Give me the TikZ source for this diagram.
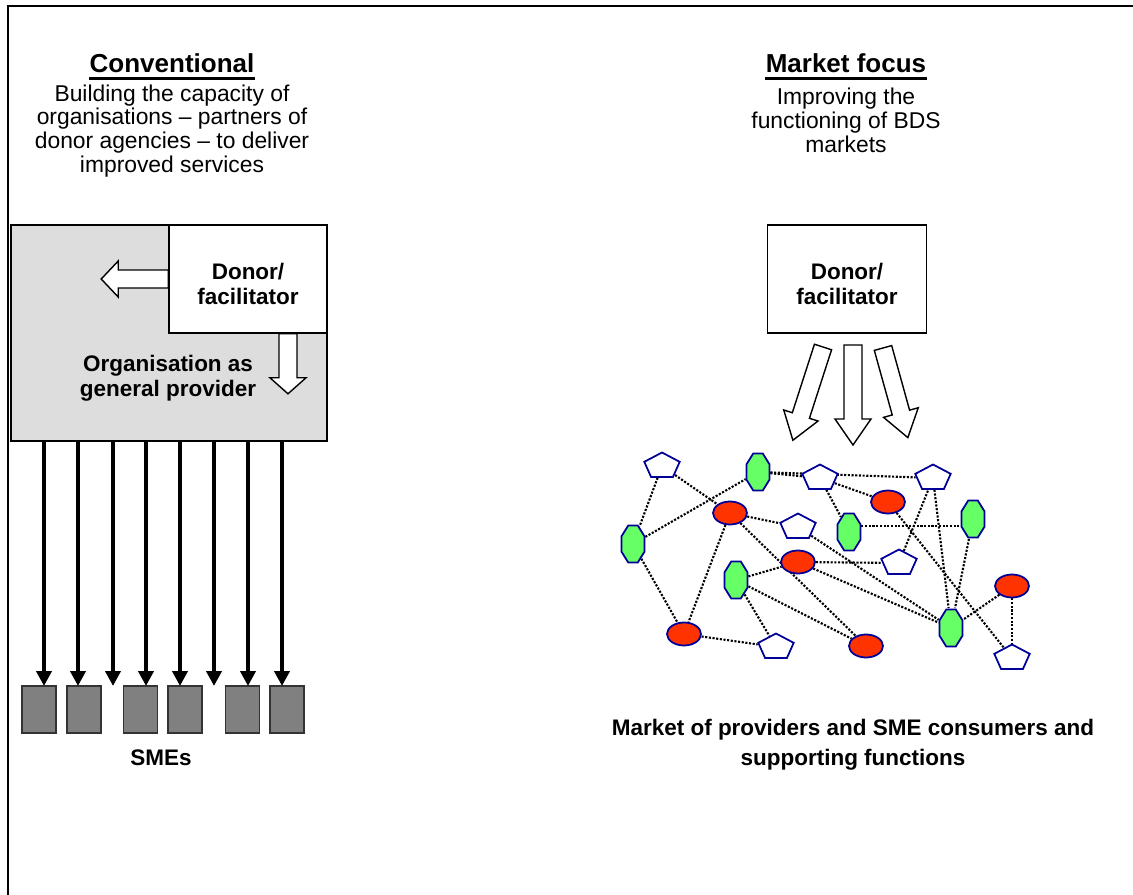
\documentclass[tikz,border=0pt]{standalone}
\usepackage{fontspec}
\setmainfont{Liberation Sans}
\usetikzlibrary{shapes.geometric, arrows.meta, positioning, backgrounds}

\definecolor{provgreen}{HTML}{66FF66}
\definecolor{firmred}{HTML}{FF3300}
\definecolor{edgeblue}{HTML}{000099}
\definecolor{orggray}{HTML}{DDDDDD}
\definecolor{smegray}{HTML}{808080}

% hollow block arrow: tail point, angle, length, head length
\newcommand{\hollowarrow}[4]{%
  \draw[line width=0.8pt, fill=white, shift={#1}, rotate=#2]
    (0,-9) -- (#3-#4,-9) -- (#3-#4,-18) -- (#3,0) -- (#3-#4,18) -- (#3-#4,9) -- (0,9) -- cycle;}

\begin{document}
\begin{tikzpicture}[x=0.02cm, y=-0.02cm, every node/.style={inner sep=0pt},
    title/.style={font=\fontsize{14.8}{17}\selectfont\bfseries},
    body/.style={font=\fontsize{13}{13.6}\selectfont, align=center},
    label/.style={font=\fontsize{12.8}{14.2}\selectfont\bfseries, align=center},
    whitebox/.style={draw, fill=white, line width=0.9pt},
    smebox/.style={draw=black!80, fill=smegray, line width=0.6pt, minimum width=0.68cm, minimum height=0.94cm},
    smeline/.style={line width=2.2pt, -{Triangle[length=8.5pt, width=8.5pt]}},
    pent/.style={regular polygon, regular polygon sides=5, draw=edgeblue, fill=white, line width=1pt, minimum size=0.54cm, xscale=1.38, transform shape},
    octo/.style={regular polygon, regular polygon sides=8, draw=edgeblue, fill=provgreen, line width=1pt, minimum size=0.498cm, yscale=1.61, transform shape},
    oval/.style={ellipse, draw=edgeblue, fill=firmred, line width=1pt, minimum width=0.68cm, minimum height=0.46cm},
    link/.style={line width=1.2pt, dash pattern=on 1.2pt off 0.9pt}]

    \useasboundingbox (0,0) rectangle (1133,895);
    \draw[line width=1.2pt] (8,895) -- (8,6) -- (1133,6);

    % Conventional side
    \node[title] (convtitle) at (172,63) {Conventional};
    \draw[line width=1.7pt] ([yshift=-3.5pt]convtitle.base west) -- ([yshift=-3.5pt]convtitle.base east);
    \node[body] (convtext) at (172,131) {Building the capacity of\\organisations -- partners of\\donor agencies -- to deliver\\improved services};

    \node[draw, fill=orggray, line width=0.9pt, minimum width=6.32cm, minimum height=4.32cm] (org) at (169,333) {};
    \node[whitebox, minimum width=3.16cm, minimum height=2.16cm] (donorL) at (248,279) {};
    \node[label] (donorLtext) at (248,284) {Donor/\\facilitator};
    \hollowarrow{(donorL.west)}{180}{67}{17}
    \hollowarrow{([xshift=0.8cm]donorL.south)}{-90}{60}{16}
    \node[label] (orgtext) at (168,378) {Organisation as\\general provider};

    % SMEs
    \foreach \x [count=\i] in {39,84,140.5,185,242.5,287}
        \node[smebox] (sme\i) at (\x,709.5) {};
    \foreach \x in {44,78,113,146,180,214,248,282}
        \draw[smeline] (org.south -| \x,0) -- (\x,686);
    \node[label] (smes) at (161,758) {SMEs};

    % Market focus side
    \node[title] (markettitle) at (846,63) {Market focus};
    \draw[line width=1.7pt] ([yshift=-3.5pt]markettitle.base west) -- ([yshift=-3.5pt]markettitle.base east);
    \node[body] (markettext) at (846,120) {Improving the\\functioning of BDS\\markets};

    \node[whitebox, minimum width=3.18cm, minimum height=2.16cm] (donorR) at (847,279) {};
    \node[label] (donorRtext) at (847,284) {Donor/\\facilitator};
    \hollowarrow{(823,347)}{-107.9}{98}{26}
    \hollowarrow{(853,345)}{-90}{100}{26}
    \hollowarrow{(883,348)}{-74.5}{93}{26}

    % network
    \node[pent] (p1) at (662,466) {};
    \node[pent] (p2) at (820,478) {};
    \node[pent] (p3) at (933,478) {};
    \node[pent] (p4) at (798,527) {};
    \node[pent] (p5) at (899,563) {};
    \node[pent] (p6) at (776,647) {};
    \node[pent] (p7) at (1012,658) {};
    \node[octo] (g1) at (758,472) {};
    \node[octo] (g2) at (633,544) {};
    \node[octo] (g3) at (849,532) {};
    \node[octo] (g4) at (973,519) {};
    \node[octo] (g5) at (736,580) {};
    \node[octo] (g6) at (951,628) {};
    \node[oval] (r1) at (730,513) {};
    \node[oval] (r2) at (888,502) {};
    \node[oval] (r3) at (798,562) {};
    \node[oval] (r4) at (1012,586) {};
    \node[oval] (r5) at (684,634) {};
    \node[oval] (r6) at (866,646) {};

    \begin{scope}[on background layer]
    \foreach \a/\b in {p1/g2, p1/r1, g2/g1, g2/r5, r1/r5, r1/p4, r1/r6, g5/r3, g5/r6, g5/p6,
                       r5/p6, g1/p3, g1/p2, p2/r2, p2/g3, r3/p5, p5/p3, p3/g6, g4/g6,
                       r2/p7, r4/p7, r4/g6, p4/g6, r3/g6}
        \draw[link] (\a) -- (\b);
    \draw[link] ([yshift=0.12cm]g3.east) -- ([yshift=0.12cm]g3.east -| g4.west);
    \end{scope}

    \node[label, font=\fontsize{12.8}{17}\selectfont\bfseries] (markettextb) at (853,745) {Market of providers and SME consumers and\\supporting functions};
\end{tikzpicture}
\end{document}
